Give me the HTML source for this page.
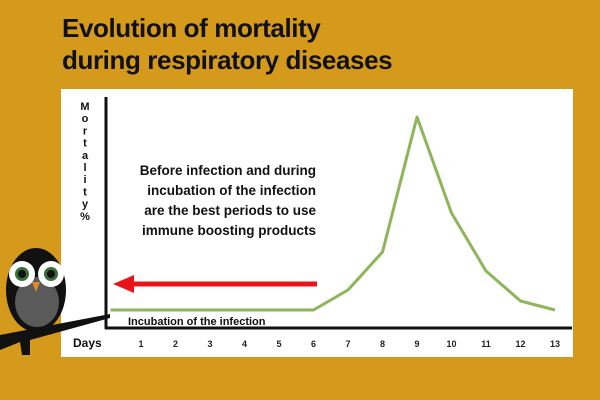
<!DOCTYPE html>
<html><head><meta charset="utf-8"><style>
body{margin:0;width:600px;height:400px;overflow:hidden;background:#D59A1B;font-family:"Liberation Sans",sans-serif;}
#wrap{position:relative;width:600px;height:400px;}
.title{position:absolute;left:62px;font-weight:bold;font-size:26px;color:#111;letter-spacing:-0.4px;white-space:nowrap}
</style></head><body>
<div id="wrap">
<div class="title" style="top:13px">Evolution of mortality</div>
<div class="title" style="top:45px">during respiratory diseases</div>
<svg id="chart" width="600" height="400" style="position:absolute;left:0;top:0">
<rect x="61" y="89" width="512" height="268" fill="#fff"/>
</svg>
</div>
<script>
const days=[0,1,2,3,4,5,6,7,8,9,10,11,12,13];
const mortality=[18,18,18,18,18,18,18,38,76,211,115,57,27,18];
const tickLabels=["1","2","3","4","5","6","7","8","9","10","11","12","13"];
const ns="http://www.w3.org/2000/svg";
const svg=document.getElementById('chart');
const x=d=>106.5+d*34.5;
const y=v=>328-v;
function el(t,a){const e=document.createElementNS(ns,t);for(const k in a)e.setAttribute(k,a[k]);svg.appendChild(e);return e;}
let e;
e=el('line',{x1:106,y1:97,x2:106,y2:329,stroke:'#111','stroke-width':3});


e=el('line',{x1:105,y1:328,x2:572,y2:328,stroke:'#111','stroke-width':3});


const yl="Mortality%".split("");
yl.forEach((c,i)=>{const t=el('text',{x:85,y:110+i*12.2,'text-anchor':'middle','font-size':11,'font-weight':'bold',fill:'#111'});t.textContent=c;

});
tickLabels.forEach((l,i)=>{const t=el('text',{x:x(i+1),y:347,'text-anchor':'middle','font-size':9,'font-weight':'bold',fill:'#222'});t.textContent=l;

});
e=el('text',{x:73,y:347,'font-size':12,'font-weight':'bold',fill:'#111'});e.textContent='Days';


e=el('polyline',{points:days.map((d,i)=>x(d)+4*(i==0)+','+y(mortality[i])).join(' '),fill:'none',stroke:'#8DB55A','stroke-width':3,'stroke-linejoin':'round'});


e=el('text',{x:128,y:325,'font-size':11,'font-weight':'bold',fill:'#111'});e.textContent='Incubation of the infection';


e=el('line',{x1:130,y1:284,x2:317,y2:284,stroke:'#E8141A','stroke-width':5});


e=el('polygon',{points:'113,284 134,275 134,293',fill:'#E8141A'});


["Before infection and during","incubation of the infection","are the best periods to use","immune boosting products"].forEach((s,i)=>{const t=el('text',{x:316,y:175+i*20,'text-anchor':'end','font-size':13.5,'font-weight':'bold',fill:'#111'});t.textContent=s;

});
e=el('polygon',{points:'0,335 110,314 110,318 30,340 30,355 22,355 20,342 0,350',fill:'#111'});


e=el('ellipse',{cx:36,cy:290,rx:30,ry:42,fill:'#111'});


e=el('ellipse',{cx:37,cy:302,rx:22,ry:25,fill:'#5a5a5a'});


[22,51].forEach(cx=>{let a=el('circle',{cx:cx,cy:274,r:13,fill:'#fff'});
a=el('circle',{cx:cx,cy:274,r:7,fill:'#3a6e3a'});
a=el('circle',{cx:cx,cy:274,r:4,fill:'#111'});});
e=el('polygon',{points:'32,282 40,282 36,292',fill:'#E08A2A'});


</script>
</body></html>
